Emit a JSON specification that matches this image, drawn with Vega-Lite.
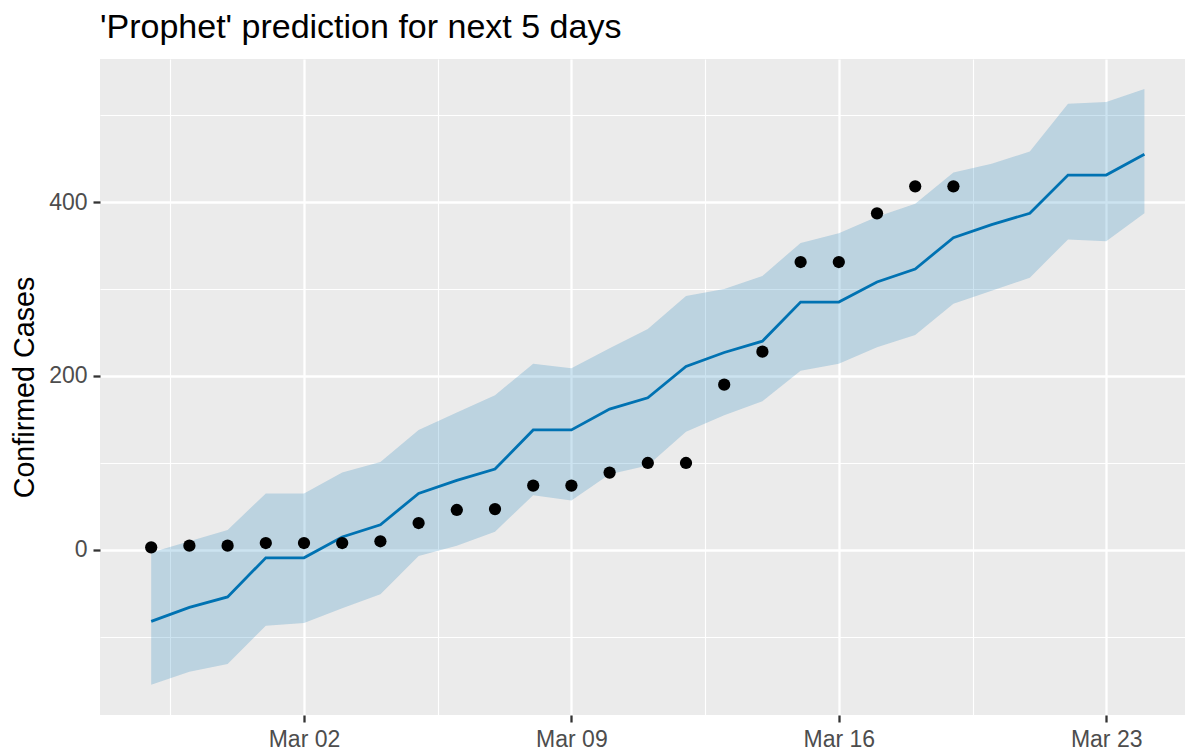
{
  "$schema": "https://vega.github.io/schema/vega-lite/v6.json",
  "autosize": "none",
  "width": 1085,
  "height": 656,
  "padding": {"left": 100, "top": 59, "right": 0, "bottom": 35},
  "background": "white",
  "view": {"stroke": null, "fill": "#EBEBEB"},
  "title": {
    "text": "'Prophet' prediction for next 5 days",
    "anchor": "start",
    "frame": "group",
    "font": "Liberation Sans",
    "fontSize": 34,
    "fontWeight": "normal",
    "color": "black",
    "baseline": "alphabetic",
    "offset": 22,
    "dy": 35
  },
  "data": {
    "values": [
      {"date": "2020-02-27", "actual": 3, "yhat": -82, "lower": -155, "upper": -3},
      {"date": "2020-02-28", "actual": 5, "yhat": -66, "lower": -140, "upper": 10},
      {"date": "2020-02-29", "actual": 5, "yhat": -54, "lower": -131, "upper": 23},
      {"date": "2020-03-01", "actual": 8, "yhat": -9, "lower": -87, "upper": 65},
      {"date": "2020-03-02", "actual": 8, "yhat": -9, "lower": -84, "upper": 65},
      {"date": "2020-03-03", "actual": 8, "yhat": 15, "lower": -67, "upper": 89},
      {"date": "2020-03-04", "actual": 10, "yhat": 29, "lower": -51, "upper": 101},
      {"date": "2020-03-05", "actual": 31, "yhat": 65, "lower": -7, "upper": 138},
      {"date": "2020-03-06", "actual": 46, "yhat": 80, "lower": 5, "upper": 158},
      {"date": "2020-03-07", "actual": 47, "yhat": 93, "lower": 21, "upper": 178},
      {"date": "2020-03-08", "actual": 74, "yhat": 138, "lower": 63, "upper": 214},
      {"date": "2020-03-09", "actual": 74, "yhat": 138, "lower": 57, "upper": 209},
      {"date": "2020-03-10", "actual": 89, "yhat": 162, "lower": 87, "upper": 232},
      {"date": "2020-03-11", "actual": 100, "yhat": 175, "lower": 97, "upper": 254},
      {"date": "2020-03-12", "actual": 100, "yhat": 211, "lower": 136, "upper": 292},
      {"date": "2020-03-13", "actual": 190, "yhat": 227, "lower": 155, "upper": 300},
      {"date": "2020-03-14", "actual": 228, "yhat": 240, "lower": 171, "upper": 315},
      {"date": "2020-03-15", "actual": 331, "yhat": 285, "lower": 206, "upper": 353},
      {"date": "2020-03-16", "actual": 331, "yhat": 285, "lower": 214, "upper": 364},
      {"date": "2020-03-17", "actual": 387, "yhat": 308, "lower": 233, "upper": 383},
      {"date": "2020-03-18", "actual": 418, "yhat": 323, "lower": 247, "upper": 398},
      {"date": "2020-03-19", "actual": 418, "yhat": 359, "lower": 283, "upper": 434},
      {"date": "2020-03-20", "actual": null, "yhat": 374, "lower": 298, "upper": 444},
      {"date": "2020-03-21", "actual": null, "yhat": 387, "lower": 313, "upper": 458},
      {"date": "2020-03-22", "actual": null, "yhat": 431, "lower": 357, "upper": 513},
      {"date": "2020-03-23", "actual": null, "yhat": 431, "lower": 355, "upper": 515},
      {"date": "2020-03-24", "actual": null, "yhat": 455, "lower": 387, "upper": 530}
    ]
  },
  "encoding": {
    "x": {
      "field": "date",
      "type": "temporal",
      "title": null,
      "scale": {
        "type": "utc",
        "domain": [
          {"year": 2020, "month": "feb", "date": 25, "hours": 15, "minutes": 50, "utc": true},
          {"year": 2020, "month": "mar", "date": 25, "hours": 1, "minutes": 30, "utc": true}
        ],
        "nice": false
      },
      "axis": {
        "orient": "bottom",
        "values": [
          {"year": 2020, "month": "feb", "date": 27, "hours": 12, "utc": true},
          {"year": 2020, "month": "mar", "date": 2, "utc": true},
          {"year": 2020, "month": "mar", "date": 5, "hours": 12, "utc": true},
          {"year": 2020, "month": "mar", "date": 9, "utc": true},
          {"year": 2020, "month": "mar", "date": 12, "hours": 12, "utc": true},
          {"year": 2020, "month": "mar", "date": 16, "utc": true},
          {"year": 2020, "month": "mar", "date": 19, "hours": 12, "utc": true},
          {"year": 2020, "month": "mar", "date": 23, "utc": true}
        ],
        "labelExpr": "utchours(datum.value) == 12 ? '' : utcFormat(datum.value, '%b %d')",
        "labelOverlap": false,
        "labelBound": false,
        "labelFlush": false,
        "domain": false,
        "grid": true,
        "gridColor": "white",
        "gridOpacity": 1,
        "gridWidth": {"condition": {"test": "utchours(datum.value) == 12", "value": 1.15}, "value": 2.3},
        "tickSize": {"condition": {"test": "utchours(datum.value) == 12", "value": 0}, "value": 7},
        "tickWidth": 2.3,
        "tickColor": "#333333",
        "labelFont": "Liberation Sans",
        "labelFontSize": 23,
        "labelColor": "#4D4D4D",
        "labelPadding": 6
      }
    }
  },
  "layer": [
    {
      "mark": {"type": "area", "color": "#0072B2", "opacity": 0.2},
      "encoding": {
        "y": {
          "field": "lower",
          "type": "quantitative",
          "title": "Confirmed Cases",
          "scale": {"domain": [-189.7, 564.4], "nice": false, "zero": false},
          "axis": {
            "values": [-100, 0, 100, 200, 300, 400, 500],
            "labelExpr": "datum.value % 200 != 0 ? '' : format(datum.value, 'd')",
            "labelOverlap": false,
            "labelBound": false,
            "labelFlush": false,
            "domain": false,
            "grid": true,
            "gridColor": "white",
            "gridOpacity": 1,
            "gridWidth": {"condition": {"test": "datum.value % 200 != 0", "value": 1.15}, "value": 2.3},
            "tickSize": {"condition": {"test": "datum.value % 200 != 0", "value": 0}, "value": 7},
            "tickWidth": 2.3,
            "tickColor": "#333333",
            "labelFont": "Liberation Sans",
            "labelFontSize": 23,
            "labelColor": "#4D4D4D",
            "labelPadding": 6,
            "titleFont": "Liberation Sans",
            "titleFontSize": 28.7,
            "titleFontWeight": "normal",
            "titleColor": "black",
            "titleAngle": -90,
            "titleAlign": "center",
            "titleBaseline": "alphabetic",
            "titleX": -67,
            "titleY": 328
          }
        },
        "y2": {"field": "upper"}
      }
    },
    {
      "mark": {"type": "line", "color": "#0072B2", "strokeWidth": 2.8},
      "encoding": {
        "y": {"field": "yhat", "type": "quantitative"}
      }
    },
    {
      "mark": {"type": "point", "filled": true, "color": "black", "opacity": 1, "size": 150, "shape": "circle"},
      "encoding": {
        "y": {"field": "actual", "type": "quantitative"}
      }
    }
  ]
}
